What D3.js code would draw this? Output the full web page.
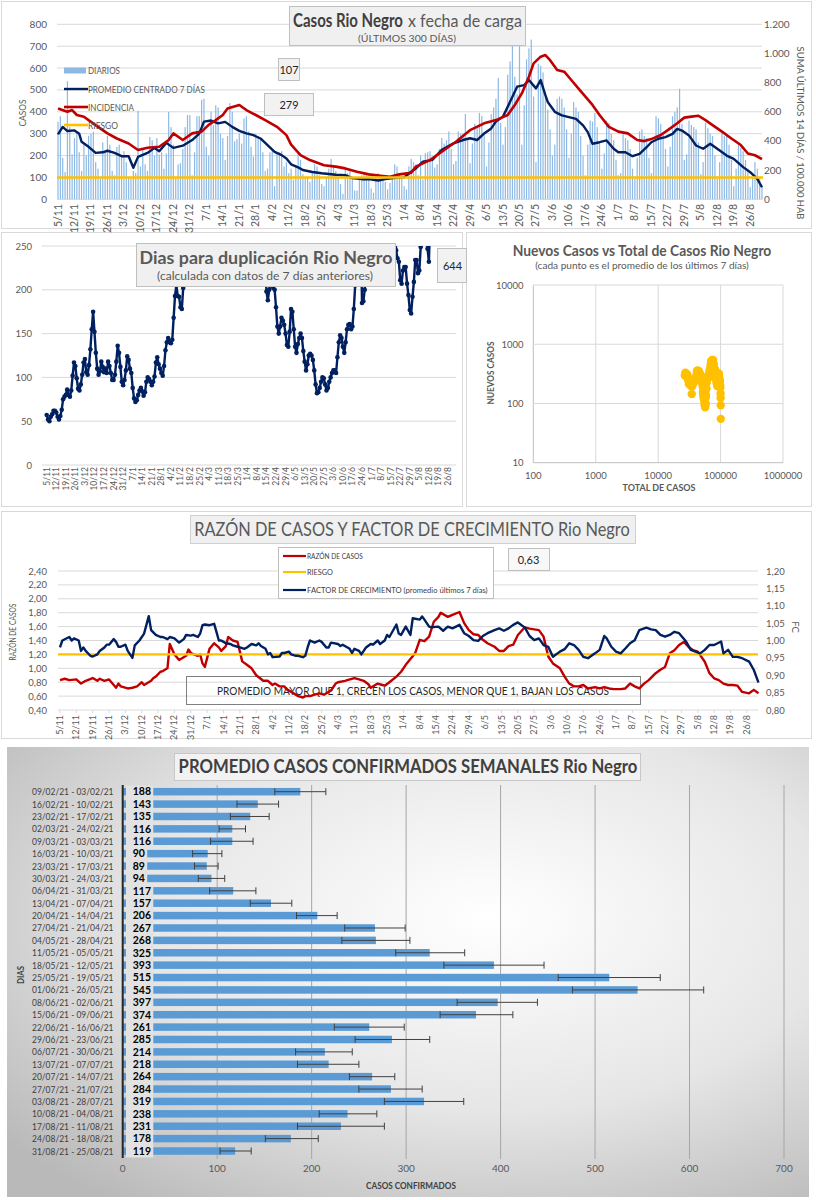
<!DOCTYPE html>
<html><head><meta charset="utf-8">
<script src="https://cdn.jsdelivr.net/npm/d3@7"></script>
<style>body{margin:0;background:#fff}svg{display:block}</style>
</head><body><svg id="c" width="816" height="1200"></svg>
<script>
// ---------------- DATA ----------------
const dateLabels = ['5/11','12/11','19/11','26/11','3/12','10/12','17/12','24/12','31/12','7/1','14/1','21/1','28/1','4/2','11/2','18/2','25/2','4/3','11/3','18/3','25/3','1/4','8/4','15/4','22/4','29/4','6/5','13/5','20/5','27/5','3/6','10/6','17/6','24/6','1/7','8/7','15/7','22/7','29/7','5/8','12/8','19/8','26/8'];

// daily cases (300 days from 5/11)
const diarios = [
355,380,190,125,540,330,205, 280,300,215,130,260,200,290, 300,310,170,140,95,260,215, 290,250,130,110,240,250,200,
220,170,100,95,130,120,405, 150,230,160,130,285,270,200, 280,205,215,140,210,400,330, 250,95,160,165,230,330,385,
385,110,215,380,380,455,460, 240,200,400,340,430,420,300, 280,180,290,440,400,265,275, 300,255,370,380,310,240,195,
300,290,280,215,130,140,215, 230,60,210,215,220,150,170, 120,140,90,150,220,180,115, 95,100,80,130,160,150,110,
70,60,100,140,185,155,130, 100,70,25,140,120,130,95, 40,40,90,110,125,110,90, 50,30,110,120,100,95,80,
45,75,110,160,150,120,100, 60,45,150,185,170,160,110, 200,90,210,215,220,195,145, 160,230,280,255,270,310,230,
160,175,310,300,300,390,280, 165,255,345,330,395,380,300, 150,260,390,420,460,555,350, 250,330,570,630,700,560,480,
700,250,430,640,690,730,470, 170,620,610,580,470,410,320, 200,250,460,470,460,420,320, 190,300,445,420,400,290,200,
110,250,360,355,395,330,260, 140,210,360,350,300,270,180, 110,120,310,280,270,230,140, 95,190,310,320,290,280,190,
120,260,380,370,345,300,230, 150,240,380,400,420,505,345, 180,205,360,340,330,320,260, 115,170,350,325,300,290,200,
95,170,305,290,290,250,180, 60,140,250,235,220,180,140, 55,100,170,140,95,60];

// [day, value] promedio centrado 7 días (left axis)
const promedio = [[0,297],[2,331],[4,312],[7,315],[9,300],[10,263],[13,240],[16,212],[19,215],[21,222],
[24,212],[27,197],[30,197],[32,144],[34,194],[38,212],[41,235],[43,220],[46,258],[49,235],
[53,245],[57,271],[60,300],[62,355],[65,360],[68,347],[71,354],[74,331],[77,313],[80,301],
[83,293],[86,278],[89,248],[92,217],[95,202],[97,187],[99,160],[102,146],[104,134],[108,125],
[112,119],[118,112],[122,110],[125,97],[129,92],[132,92],[136,86],[139,92],[144,99],[147,100],
[150,126],[152,141],[155,172],[159,180],[163,226],[168,256],[172,271],[175,279],[178,271],[181,301],
[184,324],[186,355],[189,378],[192,446],[195,515],[198,522],[200,545],[203,507],[205,545],[207,476],
[208,445],[211,400],[214,384],[217,376],[220,368],[223,338],[225,307],[227,254],[230,261],[233,269],
[236,231],[238,215],[241,215],[244,197],[247,208],[250,238],[252,261],[255,277],[258,284],[261,299],
[263,322],[265,314],[268,292],[271,246],[274,231],[277,254],[280,231],[284,200],[287,185],[291,147],
[294,124],[297,93],[299,55]];

// [day, value] incidencia 14 días / 100.000 hab (right axis)
const incidencia = [[0,622],[4,600],[6,612],[8,578],[11,566],[14,531],[17,497],[21,452],[25,417],[30,383],
[34,338],[38,354],[43,360],[47,407],[49,452],[53,407],[57,452],[61,464],[64,510],[67,543],
[70,578],[72,622],[77,647],[80,612],[84,578],[88,543],[93,497],[97,440],[99,375],[103,303],
[107,269],[113,234],[118,224],[122,212],[127,189],[132,171],[137,162],[141,155],[145,171],[150,182],
[152,224],[158,269],[163,326],[169,395],[175,474],[181,521],[186,543],[191,578],[194,647],[197,726],
[200,840],[202,932],[205,978],[207,989],[209,954],[212,887],[215,875],[218,818],[221,761],[224,704],
[227,647],[230,578],[234,497],[238,464],[242,452],[246,407],[249,399],[252,413],[256,441],[259,474],
[263,521],[266,560],[269,567],[272,573],[275,543],[278,509],[282,464],[286,417],[290,372],[293,314],
[296,302],[299,275]];
const riesgoIncidencia = 150;
const ultimoPromedio = '107', ultimaIncidencia = '279';

// días para duplicación: segments [startDay, values]
const duplSeg1 = [0, [57,52,50,55,58,62,62,60,55,52, 56,63,75,78,80,86,80,78,85,102, 117,113,99,87,85,92,103,117,121,106,
 103,114,132,155,175,152,128,110,103,107, 118,112,106,110,105,118,113,105,97,97, 103,118,136,128,112,95,91,97,108,124,
 120,110,105,88,76,72,74,80,85,88, 84,79,83,95,100,98,95,91,95,101, 117,123,115,110,105,102,113,131,140,145,
 140,139,143,168,193,205,193,192,180,178, 202,230,280]];
const duplSeg2 = [159, [280,230, 198,188,200,210,205,202,200,180,158,150, 158,168,165,160,150,137,135,152,178,175,
 155,135,128,138,145,150,145,130,118,108, 115,125,127,125,120,108,92,82,83,88, 95,100,99,92,85,88,95,100,105,108,
 108,105,123,140,148,145,135,128,140,155, 160,161,155,158,178,205, 270]];
const duplSeg3 = [230, [280,185,187,200,230,280]];
const duplSeg4 = [255, [280,245,236,232,211,207,222,226,226,207,194,177,173,192,209,234,234,219,222,249,280]];
const duplSeg5 = [278, [280,247,232,280]];
const duplUltimo = '644';

// scatter: [total de casos, nuevos casos]
const scatter = [[26700,297],[27300,331],[27950,312],[28900,315],[29500,300],[29800,263],[30550,240],[31200,212],[31850,215],[32300,222],
[32950,212],[33550,197],[34150,197],[34500,144],[34850,194],[35650,212],[36350,235],[36800,220],[37500,258],[38250,235],
[39200,245],[40250,271],[41100,300],[41750,355],[42800,360],[43850,347],[44900,354],[45950,331],[46900,313],[47800,301],
[48700,293],[49550,278],[50350,248],[51050,217],[51650,202],[52050,187],[52400,160],[52850,146],[53100,134],[53600,125],
[54100,119],[54800,112],[55250,110],[55550,97],[55950,92],[56200,92],[56550,86],[56800,92],[57300,99],[57600,100],
[57950,126],[58200,141],[58700,172],[59400,180],[60200,226],[61400,256],[62500,271],[63300,279],[64100,271],[65000,301],
[65900,324],[66600,355],[67700,378],[69000,446],[70500,515],[72100,522],[73200,545],[74800,507],[75850,545],[76900,476],
[77350,445],[78600,400],[79800,384],[80900,376],[82000,368],[83100,338],[83700,307],[84300,254],[85050,261],[85850,269],
[86600,231],[87050,215],[87700,215],[88300,197],[88900,208],[89600,238],[90100,261],[90900,277],[91750,284],[92650,299],
[93250,322],[93900,314],[94800,292],[95600,246],[96300,231],[97000,254],[97700,231],[98600,200],[99200,185],[99900,147],
[100300,124],[100600,93],[100750,55]];

// razón de casos [day, value] (left axis)
const razon = [[0,0.83],[2,0.85],[4,0.83],[7,0.84],[9,0.78],[11,0.82],[14,0.86],[16,0.82],[17,0.85],[19,0.82],[21,0.84],[22,0.80],
[24,0.72],[25,0.78],[26,0.74],[29,0.71],[31,0.72],[33,0.74],[35,0.80],[36,0.76],[39,0.82],[40,0.86],[41,0.88],[43,0.95],[44,0.96],
[46,1.00],[47,1.35],[49,1.20],[51,1.12],[54,1.18],[55,1.27],[56,1.22],[59,1.18],[60,1.20],[61,1.07],[62,1.02],[64,1.28],[66,1.36],
[68,1.30],[69,1.25],[71,1.32],[72,1.45],[74,1.40],[76,1.38],[78,1.10],[80,1.05],[82,1.00],[84,0.90],[87,0.82],[89,0.82],[91,0.76],
[92,0.78],[94,0.74],[96,0.74],[97,0.70],[99,0.66],[102,0.60],[104,0.58],[105,0.60],[107,0.60],[109,0.62],[111,0.64],[113,0.62],
[116,0.68],[118,0.78],[119,0.80],[122,0.82],[123,0.83],[126,0.86],[128,0.84],[130,0.82],[132,0.77],[133,0.72],[136,0.78],[138,0.76],
[139,0.75],[141,0.80],[144,0.88],[146,0.95],[148,1.05],[152,1.215],[154,1.41],[156,1.39],[158,1.455],[160,1.67],[162,1.74],[163,1.80],
[166,1.74],[168,1.77],[171,1.81],[173,1.65],[175,1.55],[177,1.49],[179,1.48],[181,1.41],[183,1.36],[186,1.31],[188,1.25],[190,1.25],
[192,1.32],[194,1.34],[196,1.48],[199,1.59],[201,1.57],[203,1.56],[205,1.55],[207,1.455],[209,1.17],[211,1.07],[214,1.00],[216,0.88],
[218,0.78],[220,0.74],[222,0.74],[224,0.76],[226,0.71],[229,0.73],[231,0.71],[233,0.73],[235,0.71],[237,0.70],[240,0.70],[242,0.71],
[244,0.78],[246,0.74],[248,0.71],[250,0.78],[252,0.83],[255,0.93],[257,0.98],[259,1.02],[261,1.215],[263,1.26],[265,1.335],[267,1.38],
[269,1.31],[271,1.26],[273,1.24],[276,1.095],[278,0.93],[280,0.856],[282,0.83],[284,0.78],[286,0.76],[288,0.76],[290,0.75],[292,0.66],
[295,0.64],[297,0.69],[299,0.64]];
// factor de crecimiento [day, value] (right axis)
const factor = [[0,0.98],[1,1.00],[4,1.01],[5,1.00],[6,1.006],[8,1.00],[9,0.97],[10,0.98],[11,0.97],[13,0.956],[14,0.954],[16,0.96],
[17,0.97],[19,0.98],[20,0.988],[21,0.988],[23,1.004],[24,0.996],[25,0.982],[26,0.982],[28,0.988],[29,0.97],[31,0.95],[32,0.986],
[34,1.00],[36,1.02],[38,1.07],[39,1.03],[41,1.016],[43,1.01],[44,1.01],[46,1.004],[47,1.01],[49,1.006],[51,0.994],[53,1.004],
[54,1.016],[56,1.014],[57,1.016],[59,1.01],[60,1.02],[61,1.044],[62,1.046],[64,1.044],[66,1.048],[67,1.024],[68,1.00],[69,1.00],
[70,0.996],[71,0.992],[73,0.99],[74,0.986],[76,0.982],[77,0.98],[79,0.976],[80,0.98],[82,0.99],[84,0.986],[85,0.992],[86,0.984],
[88,0.976],[89,0.96],[90,0.964],[91,0.952],[94,0.954],[95,0.964],[96,0.964],[98,0.968],[99,0.96],[101,0.956],[102,0.956],[104,0.952],
[105,0.956],[106,0.98],[107,1.00],[109,0.994],[111,1.00],[112,0.996],[114,0.98],[115,0.98],[116,0.994],[119,0.99],[120,0.984],
[121,0.988],[124,0.976],[125,0.964],[126,0.976],[128,0.97],[129,0.96],[131,0.98],[133,0.99],[134,0.988],[136,1.00],[137,0.99],
[139,1.00],[140,1.016],[141,1.01],[144,1.046],[145,1.02],[146,1.016],[148,1.04],[150,1.016],[151,1.064],[154,1.06],[155,1.069],
[156,1.06],[158,1.04],[159,1.038],[162,1.04],[164,1.028],[166,1.04],[168,1.035],[171,1.045],[173,1.021],[175,1.013],[177,1.001],
[179,0.999],[181,1.013],[183,1.021],[186,1.03],[188,1.035],[190,1.028],[192,1.035],[194,1.045],[196,1.052],[199,1.037],[201,1.013],
[203,1.001],[205,1.006],[207,0.987],[209,0.982],[211,0.953],[214,0.968],[216,0.975],[218,0.992],[220,0.987],[222,0.973],[224,0.953],
[226,0.949],[229,0.963],[231,0.973],[233,1.013],[234,1.006],[236,0.982],[238,0.968],[240,0.963],[242,0.977],[244,0.992],[246,1.001],
[248,1.03],[251,1.037],[253,1.032],[255,1.03],[257,1.016],[259,1.011],[261,1.016],[263,1.025],[265,1.021],[268,0.997],[270,0.973],
[272,0.968],[274,0.963],[276,0.973],[278,0.987],[280,0.987],[283,0.997],[284,0.963],[286,0.973],[288,0.953],[290,0.953],[292,0.949],
[295,0.939],[297,0.915],[299,0.879]];
const riesgoRazon = 1.2;
const ultimaRazon = '0,63';

// weekly averages
const semanas = ['09/02/21 - 03/02/21','16/02/21 - 10/02/21','23/02/21 - 17/02/21','02/03/21 - 24/02/21','09/03/21 - 03/03/21',
'16/03/21 - 10/03/21','23/03/21 - 17/03/21','30/03/21 - 24/03/21','06/04/21 - 31/03/21','13/04/21 - 07/04/21','20/04/21 - 14/04/21',
'27/04/21 - 21/04/21','04/05/21 - 28/04/21','11/05/21 - 05/05/21','18/05/21 - 12/05/21','25/05/21 - 19/05/21','01/06/21 - 26/05/21',
'08/06/21 - 02/06/21','15/06/21 - 09/06/21','22/06/21 - 16/06/21','29/06/21 - 23/06/21','06/07/21 - 30/06/21','13/07/21 - 07/07/21',
'20/07/21 - 14/07/21','27/07/21 - 21/07/21','03/08/21 - 28/07/21','10/08/21 - 04/08/21','17/08/21 - 11/08/21','24/08/21 - 18/08/21',
'31/08/21 - 25/08/21'];
const promSemanal = [188,143,135,116,116,90,89,94,117,157,206,267,268,325,393,515,545,397,374,261,285,214,218,264,284,319,238,231,178,119];
const errBajo = [161,121,114,102,93,74,76,80,92,135,184,235,232,289,340,461,476,354,336,224,246,183,185,240,250,277,208,185,151,103];
const errAlto = [215,165,155,130,138,105,101,108,141,179,227,299,304,362,446,569,615,439,413,298,325,243,250,288,317,361,269,277,207,136];

// ---------------- DRAWING ----------------
const svg = d3.select('#c');
const FONT = 'Lato, "Open Sans", "Liberation Sans", sans-serif';
const GRID = '#d9d9d9', AX = '#595959', NAVY = '#002060', RED = '#C00000', GOLD = '#FFC000', BAR = '#8DB9E4';
const defs = svg.append('defs');

// text helper: "fit" squeezes/stretches horizontally with a transform so the real box matches
function T(g, x, y, s, o = {}) {
  const t = g.append('text').attr('x', 0).attr('y', 0).text(s)
    .attr('font-family', FONT).attr('font-size', o.size || 10).attr('fill', o.fill || AX)
    .attr('text-anchor', o.anchor || 'start');
  if (o.weight) t.attr('font-weight', o.weight);
  let k = 1;
  if (o.fit) { const w = t.node().getComputedTextLength(); if (w > 0) k = o.fit / w; }
  let tr = `translate(${x},${y})`;
  if (o.rotate) tr += ` rotate(${o.rotate})`;
  if (k !== 1) tr += ` scale(${k.toFixed(4)},1)`;
  t.attr('transform', tr);
  return t;
}
function R(g, x, y, w, h, fill, stroke) {
  return g.append('rect').attr('x', x).attr('y', y).attr('width', w).attr('height', h)
    .attr('fill', fill).attr('stroke', stroke || 'none');
}
function hline(g, x1, x2, y, c, w) { g.append('line').attr('x1', x1).attr('x2', x2).attr('y1', y).attr('y2', y).attr('stroke', c).attr('stroke-width', w || 1); }
function vline(g, x, y1, y2, c, w) { g.append('line').attr('x1', x).attr('x2', x).attr('y1', y1).attr('y2', y2).attr('stroke', c).attr('stroke-width', w || 1); }
function clip(id, x, y, w, h) { defs.append('clipPath').attr('id', id).append('rect').attr('x', x).attr('y', y).attr('width', w).attr('height', h); }

// panel frames
const frames = svg.append('g');
R(frames, 1.5, 1.5, 810, 227, '#fff', '#d9d9d9');
R(frames, 1.5, 232.5, 461, 274, '#fff', '#d9d9d9');
R(frames, 466.5, 232.5, 345, 274, '#fff', '#d9d9d9');
R(frames, 1.5, 511.5, 810, 227, '#fff', '#d9d9d9');

// ===== Panel 1 =====
{
  const g = svg.append('g');
  const x = d3.scaleLinear().domain([0, 299]).range([58, 762]);
  const yL = d3.scaleLinear().domain([0, 800]).range([199.3, 24.3]);
  const yR = d3.scaleLinear().domain([0, 1200]).range([199.3, 24.3]);
  d3.range(0, 801, 100).forEach(v => {
    hline(g, 57, 762, yL(v), GRID);
    T(g, 47, yL(v) + 3.5, String(v), { anchor: 'end', size: 10 });
  });
  const rTicks = ['0', '200', '400', '600', '800', '1.000', '1.200'];
  rTicks.forEach((s, i) => T(g, 764, yR(i * 200) + 3.5, s, { size: 10 }));
  g.append('g').selectAll('rect').data(diarios).join('rect')
    .attr('x', (d, i) => x(i) - 0.6).attr('width', 1.2)
    .attr('y', d => yL(d)).attr('height', d => yL(0) - yL(d)).attr('fill', BAR);
  g.append('path').datum(promedio).attr('d', d3.line().x(d => x(d[0])).y(d => yL(d[1])))
    .attr('fill', 'none').attr('stroke', NAVY).attr('stroke-width', 2.4).attr('stroke-linejoin', 'round');
  g.append('path').datum(incidencia).attr('d', d3.line().x(d => x(d[0])).y(d => yR(d[1])))
    .attr('fill', 'none').attr('stroke', RED).attr('stroke-width', 2.6).attr('stroke-linejoin', 'round');
  hline(g, 57, 763, yR(riesgoIncidencia), GOLD, 2.6);
  dateLabels.forEach((s, i) => T(g, x(i * 7) + 3.5, 204, s, { anchor: 'end', size: 10.5, rotate: -90 }));
  T(g, 26, 113, 'CASOS', { anchor: 'middle', size: 10, rotate: -90, fit: 27 });
  T(g, 797, 133, 'SUMA  ÚLTIMOS 14 DÍAS / 100.000 HAB', { anchor: 'middle', size: 10, rotate: 90, fit: 173 });
  // title
  R(g, 289.5, 6.5, 236, 39, '#f0f0f0', '#bfbfbf');
  T(g, 293, 27, 'Casos Rio Negro', { size: 18, weight: 'bold', fill: '#404040', fit: 110 });
  T(g, 408, 27, 'x fecha de carga', { size: 18, fill: '#595959', fit: 114 });
  T(g, 407, 41.5, '(ÚLTIMOS 300 DÍAS)', { anchor: 'middle', size: 9.5, fit: 98 });
  // legend
  R(g, 64, 67.5, 22, 6, BAR);
  hline(g, 64, 88, 89, NAVY, 2.4);
  hline(g, 64, 88, 107, RED, 2.6);
  hline(g, 64, 88, 125, GOLD, 2.6);
  T(g, 88, 74, 'DIARIOS', { size: 9.5, fit: 32 });
  T(g, 88, 92.5, 'PROMEDIO CENTRADO 7 DÍAS', { size: 9.5, fit: 117 });
  T(g, 88, 110.5, 'INCIDENCIA', { size: 9.5, fit: 46 });
  T(g, 88, 128.5, 'RIESGO', { size: 9.5, fit: 30 });
  // value boxes
  R(g, 278.5, 58.5, 21, 22, '#f2f2f2', '#bfbfbf');
  T(g, 289, 74, ultimoPromedio, { anchor: 'middle', size: 11, fill: '#262626' });
  R(g, 264.5, 93.5, 49, 22, '#f2f2f2', '#bfbfbf');
  T(g, 289, 109, ultimaIncidencia, { anchor: 'middle', size: 11, fill: '#262626' });
}

// ===== Panel 2 =====
{
  const g = svg.append('g');
  const x = d3.scaleLinear().domain([0, 294]).range([46.7, 448]);
  const y = d3.scaleLinear().domain([0, 250]).range([465, 246]);
  d3.range(0, 251, 50).forEach(v => {
    hline(g, 42, 456, y(v), GRID);
    T(g, 32, y(v) + 3.5, String(v), { anchor: 'end', size: 9.5 });
  });
  dateLabels.forEach((s, i) => T(g, x(i * 7) + 3, 467, s, { anchor: 'end', size: 8.5, rotate: -90 }));
  clip('cp2', 40, y(250), 420, y(0) - y(250) + 4);
  const lg = g.append('g').attr('clip-path', 'url(#cp2)');
  [duplSeg1, duplSeg2, duplSeg3, duplSeg4, duplSeg5].forEach(([start, vals]) => {
    const pts = vals.map((v, i) => [start + i, v]);
    lg.append('path').datum(pts).attr('d', d3.line().x(d => x(d[0])).y(d => y(d[1])))
      .attr('fill', 'none').attr('stroke', NAVY).attr('stroke-width', 2.4).attr('stroke-linejoin', 'round');
    lg.append('g').selectAll('circle').data(pts.filter(d => d[1] <= 250)).join('circle')
      .attr('cx', d => x(d[0])).attr('cy', d => y(d[1])).attr('r', 2.3).attr('fill', NAVY);
  });
  R(g, 136.5, 243.5, 259, 43, '#f0f0f0', '#bfbfbf');
  T(g, 266, 264, 'Dias para duplicación Rio Negro', { anchor: 'middle', size: 17, weight: 'bold', fit: 253 });
  T(g, 265, 280, '(calculada con datos de 7 días anteriores)', { anchor: 'middle', size: 11.5, fit: 216 });
  R(g, 437.5, 248.5, 29, 34, '#f2f2f2', '#bfbfbf');
  T(g, 452.5, 269.5, duplUltimo, { anchor: 'middle', size: 11, fill: '#262626' });
}

// ===== Panel 3 =====
{
  const g = svg.append('g');
  const x = d3.scaleLog().domain([100, 1e6]).range([533.3, 783]);
  const y = d3.scaleLog().domain([10, 10000]).range([462.7, 285]);
  [100, 1000, 10000, 100000, 1000000].forEach(v => {
    vline(g, x(v), 285, 462.7, v === 100 ? '#bfbfbf' : GRID);
    T(g, x(v), 479, String(v), { anchor: 'middle', size: 9.5 });
  });
  [10, 100, 1000, 10000].forEach(v => {
    hline(g, 533.3, 783, y(v), v === 10 ? '#bfbfbf' : GRID);
    T(g, 523.5, y(v) + 3.5, String(v), { anchor: 'end', size: 9.5 });
  });
  g.append('g').selectAll('circle').data(scatter).join('circle')
    .attr('cx', d => x(d[0])).attr('cy', d => y(d[1])).attr('r', 4.2).attr('fill', GOLD);
  T(g, 642, 256, 'Nuevos Casos vs Total de Casos Rio Negro', { anchor: 'middle', size: 14.5, weight: 'bold', fit: 259 });
  T(g, 642, 268.5, '(cada punto es el promedio de los últimos 7 días)', { anchor: 'middle', size: 10, fit: 214 });
  T(g, 659, 491, 'TOTAL DE CASOS', { anchor: 'middle', size: 9.5, weight: 'bold', fit: 73 });
  T(g, 494, 373, 'NUEVOS CASOS', { anchor: 'middle', size: 9.5, weight: 'bold', rotate: -90, fit: 63 });
}

// ===== Panel 4 =====
{
  const g = svg.append('g');
  const x = d3.scaleLinear().domain([0, 299]).range([60, 758.5]);
  const yL = d3.scaleLinear().domain([0.4, 2.4]).range([710, 571]);
  const yR = d3.scaleLinear().domain([0.8, 1.2]).range([710, 571]);
  const lTicks = ['0,40', '0,60', '0,80', '1,00', '1,20', '1,40', '1,60', '1,80', '2,00', '2,20', '2,40'];
  lTicks.forEach((s, i) => {
    const v = 0.4 + i * 0.2;
    hline(g, 58, 758, yL(v), GRID);
    T(g, 47, yL(v) + 3.5, s, { anchor: 'end', size: 9.5 });
  });
  const rTicks = ['0,80', '0,85', '0,90', '0,95', '1,00', '1,05', '1,10', '1,15', '1,20'];
  rTicks.forEach((s, i) => T(g, 766, yR(0.8 + i * 0.05) + 3.5, s, { size: 9.5 }));
  dateLabels.forEach((s, i) => {
    vline(g, x(i * 7), 710, 713, GRID);
    T(g, x(i * 7) + 3, 715, s, { anchor: 'end', size: 9, rotate: -90 });
  });
  // annotation (behind lines)
  R(g, 186.5, 676.5, 454, 28, 'none', '#7f7f7f');
  T(g, 413, 695, 'PROMEDIO MAYOR QUE 1, CRECEN LOS CASOS, MENOR QUE 1, BAJAN LOS CASOS', { anchor: 'middle', size: 12, fill: '#262626', fit: 392 });
  g.append('path').datum(razon).attr('d', d3.line().x(d => x(d[0])).y(d => yL(d[1])))
    .attr('fill', 'none').attr('stroke', RED).attr('stroke-width', 2.4).attr('stroke-linejoin', 'round');
  hline(g, 58, 758, yL(riesgoRazon), GOLD, 2.4);
  g.append('path').datum(factor).attr('d', d3.line().x(d => x(d[0])).y(d => yR(d[1])))
    .attr('fill', 'none').attr('stroke', NAVY).attr('stroke-width', 2.4).attr('stroke-linejoin', 'round');
  T(g, 16, 632, 'RAZÓN DE CASOS', { anchor: 'middle', size: 10, rotate: -90, fit: 57 });
  T(g, 792, 627, 'FC', { anchor: 'middle', size: 9.5, rotate: 90 });
  // title
  R(g, 190.5, 515.5, 445, 28, '#f0f0f0', '#d0d0d0');
  T(g, 412, 536, 'RAZÓN DE CASOS Y FACTOR DE CRECIMIENTO Rio Negro', { anchor: 'middle', size: 19, fill: '#595959', fit: 436 });
  // legend
  R(g, 278.5, 547.5, 215, 51, '#fff', '#bfbfbf');
  hline(g, 283, 306, 556, RED, 2.2);
  hline(g, 283, 306, 572, GOLD, 2.2);
  hline(g, 283, 306, 590, NAVY, 2.2);
  T(g, 307, 558.5, 'RAZÓN DE CASOS', { size: 7.5, fill: '#404040', fit: 56 });
  T(g, 307, 574.5, 'RIESGO', { size: 7.5, fill: '#404040', fit: 26 });
  T(g, 307, 592.5, 'FACTOR DE CRECIMIENTO (promedio últimos 7 días)', { size: 7.5, fill: '#404040', fit: 181 });
  R(g, 508.5, 548.5, 41, 22, '#f8f8f8', '#bfbfbf');
  T(g, 528.5, 563.5, ultimaRazon, { anchor: 'middle', size: 11, fill: '#262626' });
}

// ===== Panel 5 =====
{
  const g = svg.append('g');
  const grad = defs.append('radialGradient').attr('id', 'bg5').attr('cx', '0.6').attr('cy', '0.38').attr('r', '0.78');
  grad.append('stop').attr('offset', '0').attr('stop-color', '#ffffff');
  grad.append('stop').attr('offset', '0.55').attr('stop-color', '#e6e6e6');
  grad.append('stop').attr('offset', '1').attr('stop-color', '#b9b9b9');
  R(g, 7, 747, 802, 450, 'url(#bg5)');
  const x = d3.scaleLinear().domain([0, 700]).range([122.7, 784]);
  const y = d3.scaleBand().domain(semanas).range([785.5, 1157.2]);
  d3.range(100, 701, 100).forEach(v => vline(g, x(v), 785, 1159, '#a6a6a6'));
  d3.range(0, 701, 100).forEach(v => T(g, x(v), 1172, String(v), { anchor: 'middle', size: 10 }));
  const bh = 7.5;
  const cy = s => y(s) + y.bandwidth() / 2;
  g.append('g').selectAll('rect').data(semanas).join('rect')
    .attr('x', x(0)).attr('y', s => cy(s) - bh / 2).attr('height', bh)
    .attr('width', (s, i) => x(promSemanal[i]) - x(0)).attr('fill', '#5B9BD5');
  // error bars
  const eg = g.append('g').attr('stroke', '#404040').attr('stroke-width', 1);
  semanas.forEach((s, i) => {
    const c = cy(s);
    eg.append('line').attr('x1', x(errBajo[i])).attr('x2', x(errAlto[i])).attr('y1', c).attr('y2', c);
    eg.append('line').attr('x1', x(errBajo[i])).attr('x2', x(errBajo[i])).attr('y1', c - 3.5).attr('y2', c + 3.5);
    eg.append('line').attr('x1', x(errAlto[i])).attr('x2', x(errAlto[i])).attr('y1', c - 3.5).attr('y2', c + 3.5);
  });
  // value labels with background
  semanas.forEach((s, i) => {
    const c = cy(s);
    const bg = R(g, 126, c - y.bandwidth() / 2, 10, y.bandwidth() + 0.3, '#e2e2e2');
    const t = T(g, 132.7, c + 3.8, String(promSemanal[i]), { size: 10.5, weight: 'bold', fill: '#000' });
    bg.attr('width', t.node().getComputedTextLength() + 9);
    T(g, 113.5, c + 3.5, s, { anchor: 'end', size: 10, fill: '#404040', fit: 81.6 });
  });
  vline(g, x(0), 785, 1158, '#262626', 2);
  T(g, 411, 1189, 'CASOS CONFIRMADOS', { anchor: 'middle', size: 8.5, weight: 'bold', fill: '#404040', fit: 90 });
  T(g, 24, 975, 'DIAS', { anchor: 'middle', size: 8.5, weight: 'bold', fill: '#404040', rotate: -90, fit: 18 });
  R(g, 174.5, 753.5, 466, 27, '#f2f2f2', '#c8c8c8');
  T(g, 408, 773, 'PROMEDIO CASOS CONFIRMADOS SEMANALES Rio Negro', { anchor: 'middle', size: 19, weight: 'bold', fill: '#404040', fit: 459 });
}
</script></body></html>
